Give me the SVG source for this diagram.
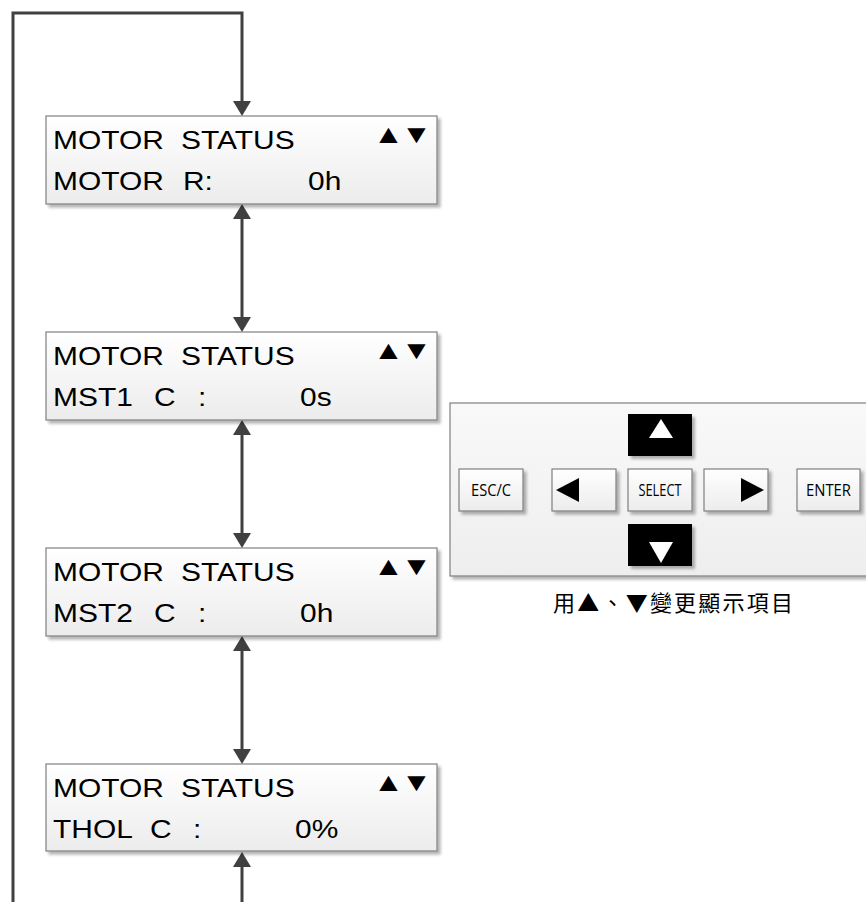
<svg xmlns="http://www.w3.org/2000/svg" width="866" height="902" viewBox="0 0 866 902">
<defs>
<linearGradient id="gBox" x1="0" y1="0" x2="0" y2="1">
<stop offset="0" stop-color="#ffffff"/>
<stop offset="1" stop-color="#ececec"/>
</linearGradient>
<linearGradient id="gPanel" x1="0" y1="0" x2="0" y2="1">
<stop offset="0" stop-color="#f9f9f9"/>
<stop offset="1" stop-color="#eeeeee"/>
</linearGradient>
<filter id="shadow" x="-5%" y="-5%" width="115%" height="130%">
<feGaussianBlur in="SourceAlpha" stdDeviation="1.5"/>
<feOffset dx="3" dy="3" result="b"/>
<feComponentTransfer><feFuncA type="linear" slope="0.3"/></feComponentTransfer>
<feMerge><feMergeNode/><feMergeNode in="SourceGraphic"/></feMerge>
</filter>
<marker id="arr" viewBox="0 0 15 18" refX="3" refY="9" markerWidth="15" markerHeight="18" markerUnits="userSpaceOnUse" orient="auto-start-reverse">
<path d="M0,0 L15,9 L0,18 z" fill="#404040"/>
</marker>
</defs>
<style>
.box{fill:url(#gBox);stroke:#7f7f7f;stroke-width:1.2;filter:url(#shadow)}
.lcd{font-family:"Liberation Sans",Arial,sans-serif;font-size:26.5px;fill:#000}
.tri{font-family:"Liberation Sans",Arial,sans-serif;font-size:26px;fill:#000}
.conn{fill:none;stroke:#404040;stroke-width:3}
.panel{fill:url(#gPanel);stroke:#7f7f7f;stroke-width:1.2;filter:url(#shadow)}
.btn{fill:url(#gBox);stroke:#7f7f7f;stroke-width:1.2;filter:url(#shadow)}
.bbtn{fill:#000;filter:url(#shadow)}
.btxt{font-family:"Open Sans","Liberation Sans",sans-serif;font-size:15.5px;fill:#000;text-anchor:middle}
.cap{font-family:"Noto Sans CJK TC","Noto Sans CJK SC",sans-serif;font-size:22px;fill:#000}
</style>

<g id="connectors">
<path class="conn" d="M13,902 V13 H242 V104" marker-end="url(#arr)"/>
<path class="conn" d="M242,216 V320" marker-start="url(#arr)" marker-end="url(#arr)"/>
<path class="conn" d="M242,432 V536" marker-start="url(#arr)" marker-end="url(#arr)"/>
<path class="conn" d="M242,648 V752" marker-start="url(#arr)" marker-end="url(#arr)"/>
<path class="conn" d="M242,902 V864" marker-end="url(#arr)"/>
</g>

<g id="node1">
<rect class="box" x="46" y="116" width="391" height="88"/>
<text class="lcd" transform="translate(53,149) scale(1.13,1)">MOTOR</text>
<text class="lcd" transform="translate(181,149) scale(1.13,1)">STATUS</text>
<text class="tri" transform="translate(373,143) scale(1.2,1)">▲</text>
<text class="tri" transform="translate(401,143) scale(1.2,1)">▼</text>
<text class="lcd" transform="translate(53,190) scale(1.13,1)">MOTOR</text>
<text class="lcd" transform="translate(183,190) scale(1.13,1)">R:</text>
<text class="lcd" transform="translate(308,190) scale(1.13,1)">0h</text>
</g>

<g id="node2">
<rect class="box" x="46" y="332" width="391" height="88"/>
<text class="lcd" transform="translate(53,365) scale(1.13,1)">MOTOR</text>
<text class="lcd" transform="translate(181,365) scale(1.13,1)">STATUS</text>
<text class="tri" transform="translate(373,359) scale(1.2,1)">▲</text>
<text class="tri" transform="translate(401,359) scale(1.2,1)">▼</text>
<text class="lcd" transform="translate(53,406) scale(1.13,1)">MST1</text>
<text class="lcd" transform="translate(154,406) scale(1.13,1)">C</text>
<text class="lcd" transform="translate(198,406) scale(1.13,1)">:</text>
<text class="lcd" transform="translate(300,406) scale(1.13,1)">0s</text>
</g>

<g id="node3">
<rect class="box" x="46" y="548" width="391" height="88"/>
<text class="lcd" transform="translate(53,581) scale(1.13,1)">MOTOR</text>
<text class="lcd" transform="translate(181,581) scale(1.13,1)">STATUS</text>
<text class="tri" transform="translate(373,575) scale(1.2,1)">▲</text>
<text class="tri" transform="translate(401,575) scale(1.2,1)">▼</text>
<text class="lcd" transform="translate(53,622) scale(1.13,1)">MST2</text>
<text class="lcd" transform="translate(154,622) scale(1.13,1)">C</text>
<text class="lcd" transform="translate(198,622) scale(1.13,1)">:</text>
<text class="lcd" transform="translate(300,622) scale(1.13,1)">0h</text>
</g>

<g id="node4">
<rect class="box" x="46" y="764" width="391" height="87"/>
<text class="lcd" transform="translate(53,797) scale(1.13,1)">MOTOR</text>
<text class="lcd" transform="translate(181,797) scale(1.13,1)">STATUS</text>
<text class="tri" transform="translate(373,791) scale(1.2,1)">▲</text>
<text class="tri" transform="translate(401,791) scale(1.2,1)">▼</text>
<text class="lcd" transform="translate(53,838) scale(1.13,1)">THOL</text>
<text class="lcd" transform="translate(150,838) scale(1.13,1)">C</text>
<text class="lcd" transform="translate(193,838) scale(1.13,1)">:</text>
<text class="lcd" transform="translate(295,838) scale(1.13,1)">0%</text>
</g>

<g id="keypad">
<rect class="panel" x="450" y="403" width="425" height="173"/>
<rect class="bbtn" x="628" y="414" width="64" height="42"/>
<polygon points="649,438 673,438 661,419" fill="#ffffff"/>
<rect class="btn" x="459" y="469" width="64" height="42"/>
<text class="btxt" x="491" y="496" textLength="40" lengthAdjust="spacingAndGlyphs">ESC/C</text>
<rect class="btn" x="552" y="469" width="64" height="42"/>
<polygon points="579,478 579,502 556,490" fill="#000"/>
<rect class="btn" x="628" y="469" width="64" height="42"/>
<text class="btxt" x="660" y="496" textLength="43" lengthAdjust="spacingAndGlyphs">SELECT</text>
<rect class="btn" x="704" y="469" width="64" height="42"/>
<polygon points="741,478 741,502 764,490" fill="#000"/>
<rect class="btn" x="797" y="469" width="63" height="42"/>
<text class="btxt" x="828.5" y="496" textLength="45" lengthAdjust="spacingAndGlyphs">ENTER</text>
<rect class="bbtn" x="628" y="524" width="64" height="42"/>
<polygon points="649,542 673,542 661,563" fill="#ffffff"/>
</g>

<g id="caption">
<text class="cap" x="553" y="611" textLength="240" lengthAdjust="spacing">用▲、▼變更顯示項目</text>
</g>
</svg>
